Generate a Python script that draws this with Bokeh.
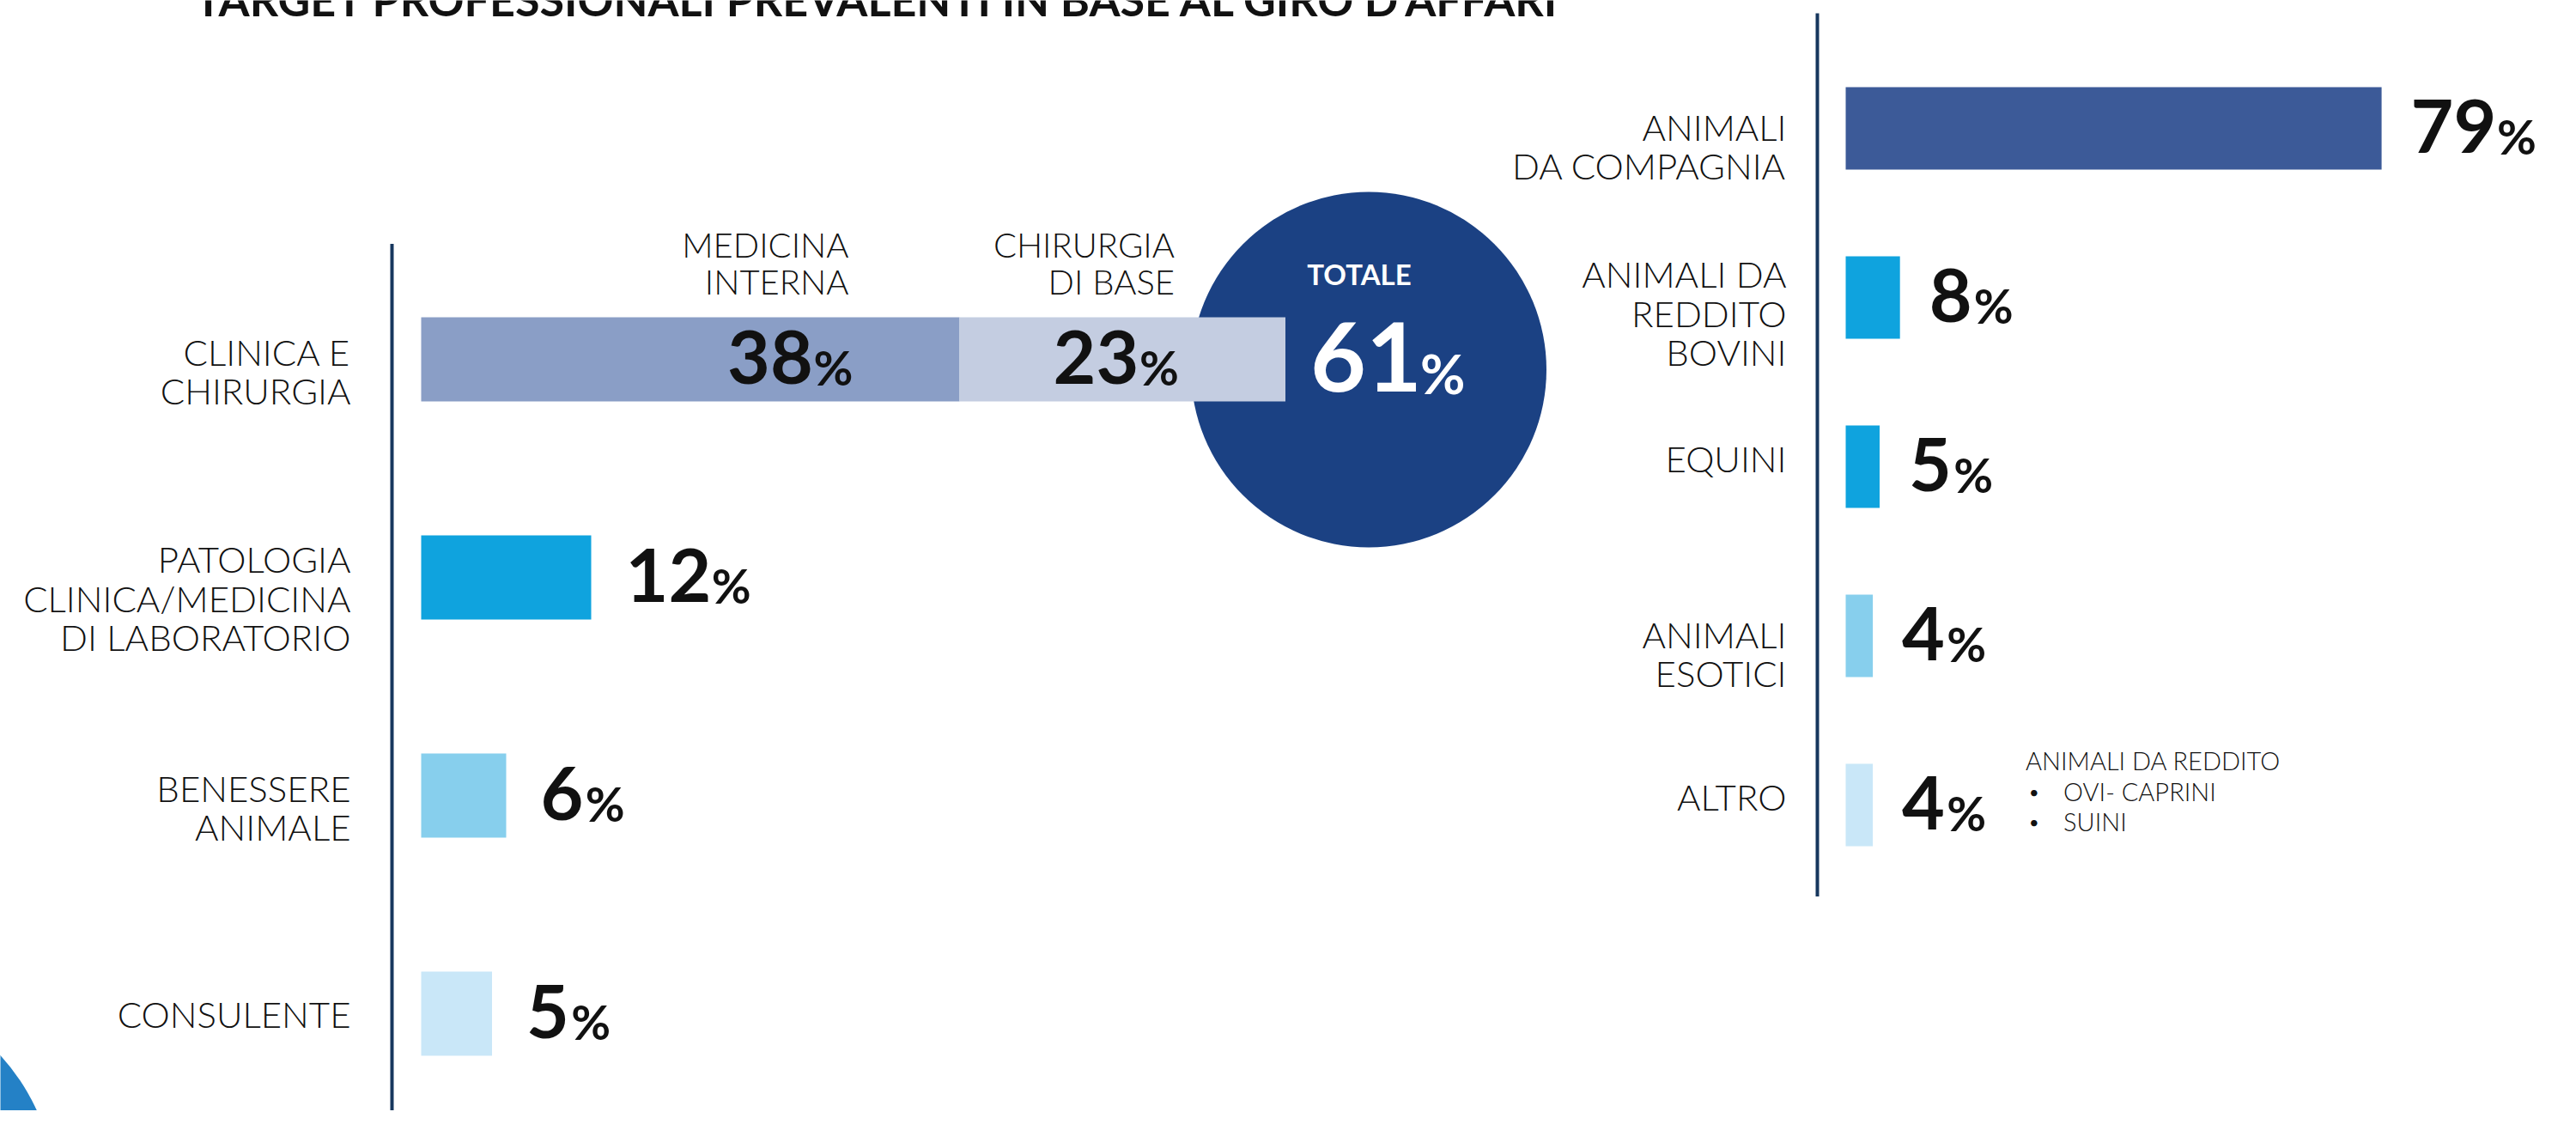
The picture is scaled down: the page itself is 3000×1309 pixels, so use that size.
import numpy as np
from bokeh.plotting import figure
from bokeh.models import Range1d
from bokeh.core.properties import value
from bokeh.embed import file_html
from bokeh.resources import INLINE

# ---------------- data ----------------
title_text = "TARGET PROFESSIONALI PREVALENTI IN BASE AL GIRO D'AFFARI"

stack_category = "CLINICA E\nCHIRURGIA"
stack_parts = ["MEDICINA\nINTERNA", "CHIRURGIA\nDI BASE"]
stack_values = [38, 23]
total_label = "TOTALE"

left_categories = ["PATOLOGIA\nCLINICA/MEDICINA\nDI LABORATORIO", "BENESSERE\nANIMALE", "CONSULENTE"]
left_values = [12, 6, 5]

right_categories = ["ANIMALI\nDA COMPAGNIA", "ANIMALI DA\nREDDITO\nBOVINI", "EQUINI",
                    "ANIMALI\nESOTICI", "ALTRO"]
right_values = [79, 8, 5, 4, 4]

note_title = "ANIMALI DA REDDITO"
note_items = ["OVI- CAPRINI", "SUINI"]

# ---------------- styles ----------------
stack_colors = ["#8a9ec6", "#c4cde1"]
left_colors = ["#0fa3de", "#87cfed", "#c9e7f8"]
right_colors = ["#3c5a98", "#0fa3de", "#0fa3de", "#87cfed", "#c9e7f8"]
NAVY = "#1b4183"
AXIS = "#17375e"
ARC = "#2481c6"
TXT = "#111111"
FONT = value("Lato")
LFONT = value("Lato Light")
CAT_FS = "42px"
CAT_LH = 0.91
DIG, PCT, CAP = 86, 56, 0.72
DIG_W = 0.56 * DIG
PCT_W = 0.78 * PCT
TDIG, TPCT = 112, 64
SHIFT = 0.387  # baseline shift of the renderer (fraction of font size)


def yoff(fs, base):
    return base - SHIFT * fs


def block_off(s, one, two, three):
    n = s.count("\n") + 1
    return one if n == 1 else (two if n == 2 else three)


# ---------------- layout (pixel scales) ----------------
W, H = 2984, 1293
LX0, LPX, LY0, LDY = 490, 16.5, 418, 254
RX0, RPX, RY0, RDY = 2149, 7.9, 149, 197

p = figure(width=W, height=H, output_backend="svg", toolbar_location=None,
           x_range=Range1d(-LX0 / LPX, (W - LX0) / LPX),
           y_range=Range1d((H - LY0) / LDY, -LY0 / LDY),
           x_axis_type=None, y_axis_type=None, min_border=0,
           outline_line_color=None, background_fill_color="white",
           border_fill_color="white")
p.extra_x_ranges = {"r": Range1d(-RX0 / RPX, (W - RX0) / RPX)}
p.extra_y_ranges = {"r": Range1d((H - RY0) / RDY, -RY0 / RDY)}
p.grid.visible = False
R = dict(x_range_name="r", y_range_name="r")

# decorative arc in the bottom-left corner
p.scatter(x=[(-190 - LX0) / LPX], y=[(1400 - LY0) / LDY], size=512,
          fill_color=ARC, line_color=None)

# axis lines
lax = (456 - LX0) / LPX
n_left = 1 + len(left_values)
p.segment(x0=[lax], y0=[-0.53], x1=[lax], y1=[n_left + 1], line_color=AXIS, line_width=4)
rax = (2116 - RX0) / RPX
p.segment(x0=[rax], y0=[-0.68], x1=[rax], y1=[len(right_values) - 0.46],
          line_color=AXIS, line_width=4, **R)

# total circle
total = sum(stack_values)
cx = total + 97 / LPX
cy = 12 / LDY
p.scatter(x=[cx], y=[cy], size=414, fill_color=NAVY, line_color=None)

# stacked bar
ends = np.cumsum(stack_values)
starts = ends - np.array(stack_values)
p.hbar(y=[0] * len(stack_values), left=starts, right=ends, height=98 / LDY,
       fill_color=stack_colors, line_color=None)

# left single bars
ly = list(range(1, 1 + len(left_values)))
p.hbar(y=ly, left=0, right=left_values, height=98 / LDY, fill_color=left_colors, line_color=None)

# right bars
ry = list(range(len(right_values)))
p.hbar(y=ry, left=0, right=right_values, height=96 / RDY, fill_color=right_colors,
       line_color=None, **R)

common = dict(text_font=FONT, text_color=TXT)
lcommon = dict(text_font=LFONT, text_color=TXT)

# category labels
left_all = [stack_category] + left_categories
p.text(x=[lax] * len(left_all), y=list(range(len(left_all))), text=left_all,
       x_offset=-48, y_offset=[block_off(s, 0, 14, 24) for s in left_all],
       text_align="right", text_baseline="middle", text_font_size=CAT_FS,
       text_line_height=CAT_LH, **lcommon)
p.text(x=[rax] * len(right_categories), y=ry, text=right_categories,
       x_offset=-36, y_offset=[block_off(s, -10, 21, 18) for s in right_categories],
       text_align="right", text_baseline="middle", text_font_size=CAT_FS,
       text_line_height=CAT_LH, **lcommon, **R)

# stack part labels
p.text(x=list(ends), y=[0] * len(stack_parts), text=stack_parts, x_offset=-129, y_offset=-112,
       text_align="right", text_baseline="middle", text_font_size="40px",
       text_line_height=CAT_LH, **lcommon)

base = CAP * DIG / 2
# stack values (inside bar)
p.text(x=list(ends), y=[0] * len(stack_values), text=[str(v) for v in stack_values],
       x_offset=-124 - PCT_W - 3, y_offset=yoff(DIG, base), text_align="right",
       text_baseline="alphabetic", text_font_size=f"{DIG}px", text_font_style="bold", **common)
p.text(x=list(ends), y=[0] * len(stack_values), text=["%"] * len(stack_values),
       x_offset=-124, y_offset=yoff(PCT, base), text_align="right",
       text_baseline="alphabetic", text_font_size=f"{PCT}px", text_font_style="bold", **common)

# left single values
LG = 40
p.text(x=left_values, y=ly, text=[str(v) for v in left_values], x_offset=LG,
       y_offset=yoff(DIG, base), text_align="left", text_baseline="alphabetic",
       text_font_size=f"{DIG}px", text_font_style="bold", **common)
p.text(x=left_values, y=ly, text=["%"] * len(left_values),
       x_offset=[LG + len(str(v)) * DIG_W + 4 for v in left_values],
       y_offset=yoff(PCT, base), text_align="left", text_baseline="alphabetic",
       text_font_size=f"{PCT}px", text_font_style="bold", **common)

# right values
RG = 34
p.text(x=right_values, y=ry, text=[str(v) for v in right_values], x_offset=RG,
       y_offset=yoff(DIG, base), text_align="left", text_baseline="alphabetic",
       text_font_size=f"{DIG}px", text_font_style="bold", **common, **R)
p.text(x=right_values, y=ry, text=["%"] * len(right_values),
       x_offset=[RG + len(str(v)) * DIG_W + 4 for v in right_values],
       y_offset=yoff(PCT, base), text_align="left", text_baseline="alphabetic",
       text_font_size=f"{PCT}px", text_font_style="bold", **common, **R)

# total labels
tbase = CAP * TDIG / 2
p.text(x=[cx], y=[0], text=[total_label], x_offset=-11, y_offset=-100, text_align="center",
       text_baseline="middle", text_font=FONT, text_color="white", text_font_size="33px",
       text_font_style="bold")
p.text(x=[cx], y=[0], text=[str(total)], x_offset=62, y_offset=yoff(TDIG, tbase),
       text_align="right", text_baseline="alphabetic", text_font=FONT, text_color="white",
       text_font_size=f"{TDIG}px", text_font_style="bold")
p.text(x=[cx], y=[0], text=["%"], x_offset=60, y_offset=yoff(TPCT, tbase),
       text_align="left", text_baseline="alphabetic", text_font=FONT, text_color="white",
       text_font_size=f"{TPCT}px", text_font_style="bold")

# note next to ALTRO
ia = len(right_values) - 1
xa, ya = right_values[ia], ry[ia]
p.text(x=[xa], y=[ya], text=[note_title], x_offset=178, y_offset=-52, text_align="left",
       text_baseline="middle", text_font_size="29px", **lcommon, **R)
p.text(x=[xa] * len(note_items), y=[ya] * len(note_items), text=["•"] * len(note_items),
       x_offset=182, y_offset=[-16, 19], text_align="left", text_baseline="middle",
       text_font_size="20px", **common, **R)
p.text(x=[xa] * len(note_items), y=[ya] * len(note_items), text=note_items,
       x_offset=222, y_offset=[-16, 19], text_align="left", text_baseline="middle",
       text_font_size="29px", **lcommon, **R)

# title (cut off at the top as in the reference)
p.text(x=[(1022 - LX0) / LPX], y=[(19 - LY0) / LDY], text=[title_text], text_align="center",
       y_offset=yoff(52, 0), text_baseline="alphabetic", text_font_size="52px",
       text_font_style="bold", **common)

open("out.html", "w").write(file_html(p, INLINE))
